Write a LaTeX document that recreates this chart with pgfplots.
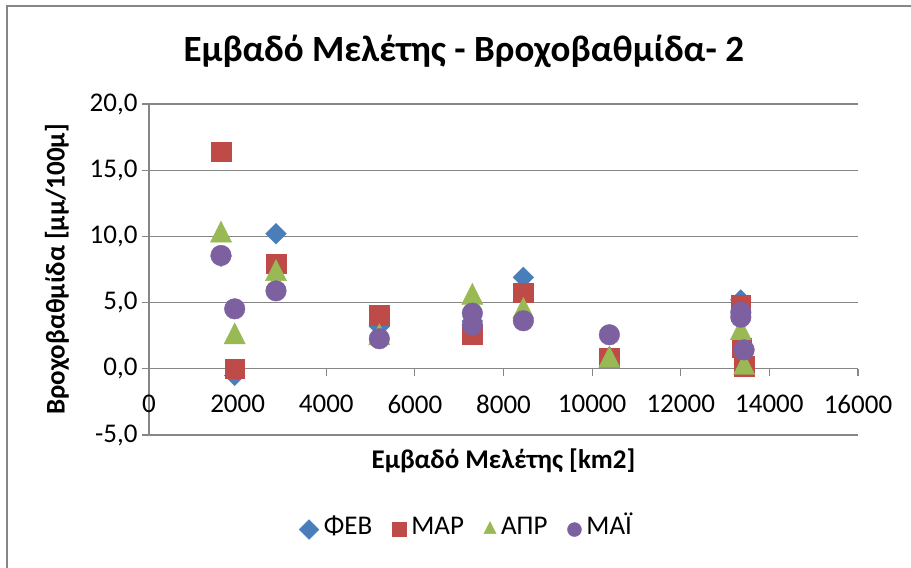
\documentclass[border=0pt]{standalone}
\usepackage{fontspec}
\setmainfont{Carlito}
\usepackage{pgfplots}
\pgfplotsset{compat=1.18}
\definecolor{cB}{RGB}{74,126,187}
\definecolor{cR}{RGB}{190,75,72}
\definecolor{cG}{RGB}{152,185,84}
\definecolor{cP}{RGB}{125,96,160}
\definecolor{gridc}{RGB}{134,134,134}
\newcommand{\tickfont}{\fontsize{27bp}{32bp}\selectfont}
\newcommand{\titlefont}{\fontsize{37bp}{44bp}\selectfont\bfseries}
\begin{document}
\begin{tikzpicture}[x=1bp,y=1bp]
\useasboundingbox (-149,-133) rectangle (762,435);
\draw[gridc, line width=1.5bp] (-142,-140) -- (-142,429) -- (770,429);
\begin{axis}[
  at={(0,0)}, anchor=south west, scale only axis,
  width=709bp, height=331bp,
  xmin=0, xmax=16000, ymin=-5, ymax=20,
  axis x line=middle, axis y line=left,
  axis line style={-, gridc, line width=1.2bp},
  every inner x axis line/.append style={-},
  every outer x axis line/.append style={-},
  every inner y axis line/.append style={-},
  every outer y axis line/.append style={-},
  hide obscured x ticks=false, hide obscured y ticks=false,
  xtick={0,2000,...,16000}, ytick={-5,0,...,20},
  tick align=outside, major tick length=7bp,
  tick style={gridc, line width=1.2bp},
  ymajorgrids, grid style={gridc, line width=1.2bp},
  scaled x ticks=false, scaled y ticks=false,
  /pgf/number format/assume math mode=true,
  xticklabel style={font=\tickfont, /pgf/number format/1000 sep={}, yshift=-16bp},
  yticklabel style={font=\tickfont, xshift=-1bp, /pgf/number format/.cd, fixed, fixed zerofill, precision=1, use comma},
  xlabel={Εμβαδό Μελέτης [km2]},
  ylabel={Βροχοβαθμίδα [μμ/100μ]},
  xlabel style={font=\tickfont\bfseries, at={(axis description cs:0.5,-0.0785)}, anchor=center},
  ylabel style={font=\tickfont\bfseries, at={(axis description cs:-0.1298,0.5)}, anchor=center, rotate=0},
  title={Εμβαδό Μελέτης - Βροχοβαθμίδα- 2},
  title style={font=\titlefont, at={(axis description cs:0.444,1.142)}, anchor=center},
  legend columns=-1,
  legend cell align=left,
  legend style={draw=none, fill=none, font=\tickfont, at={(axis description cs:0.45,-0.278)}, anchor=center,
    nodes={text height=18bp, text depth=2bp, inner xsep=5bp},
    /tikz/every even column/.append style={column sep=15bp}},
  legend image post style={mark size=7bp, yshift=-3bp},
  clip=false,
]
\addplot[only marks, mark=square*, mark size=7.3bp, mark options={rotate=45, draw=cB, fill=cB}] coordinates {
(1625,8.5) (1934,-0.5) (2866,10.2) (5198,3.2) (7297,3.6) (8448,6.9) (10389,0.9) (13355,5.2) (13430,0.4)};
\addlegendentry{ΦΕΒ}
\addplot[only marks, mark=square*, mark size=9.7bp, mark options={draw=cR, fill=cR}] coordinates {
(1625,16.4) (1934,0.0) (2866,7.93) (5198,4.05) (7297,2.6) (8448,5.75) (10389,0.83) (13355,4.8) (13380,1.6) (13430,0.2)};
\addlegendentry{ΜΑΡ}
\addplot[only marks, mark=triangle*, mark size=12.2bp, mark options={yscale=1.15, draw=cG, fill=cG}] coordinates {
(1625,10.1) (1934,2.41) (2866,7.19) (5198,2.34) (7297,5.4) (8448,4.34) (10389,0.64) (13355,2.72) (13430,0.1)};
\addlegendentry{ΑΠΡ}
\addplot[only marks, mark=*, mark size=10.3bp, mark options={draw=cP, fill=cP}] coordinates {
(1625,8.56) (1934,4.53) (2866,5.89) (5198,2.27) (7297,4.2) (7297,3.3) (8448,3.63) (10389,2.57) (13355,4.27) (13355,3.9) (13430,1.43)};
\addlegendentry{ΜΑΪ}
\end{axis}
\end{tikzpicture}
\end{document}
